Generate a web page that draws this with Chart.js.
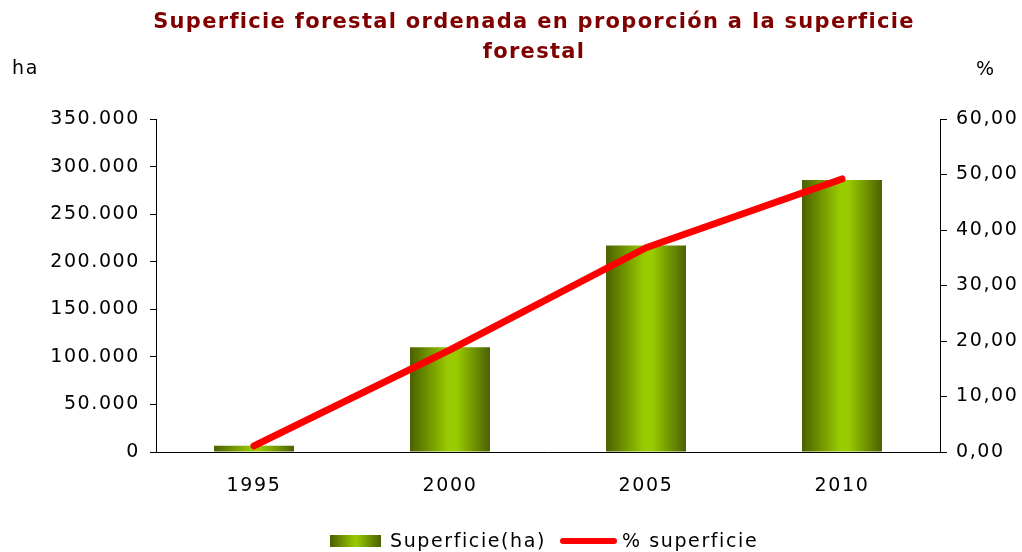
<!DOCTYPE html>
<html>
<head>
<meta charset="utf-8">
<script src="https://cdn.jsdelivr.net/npm/chart.js@4.4.1/dist/chart.umd.min.js"></script>
<style>
html,body{margin:0;padding:0;background:#fff;}
#wrap{width:1022px;height:552px;position:relative;}
</style>
</head>
<body>
<div id="wrap"><canvas id="c" width="1022" height="552"></canvas></div>
<script>
const years = ['1995', '2000', '2005', '2010'];
const superficieHa = [6600, 110000, 217000, 286000];
const porcentaje = [1.1, 18.4, 36.8, 49.2];
const titleLines = ['Superficie forestal ordenada en proporción a la superficie', 'forestal'];
const leftUnit = 'ha';
const rightUnit = '%';
const seriesNames = ['Superficie(ha)', '% superficie'];

const FONT = "'DejaVu Sans', Verdana, sans-serif";
const SPACING = '1.6px';
const BAR_DARK = '#4b6000';
const BAR_LIGHT = '#99cc00';

function fmtThousands(v){
  return String(Math.round(v)).replace(/\B(?=(\d{3})+(?!\d))/g, '.');
}
function fmtPct(v){
  return Number(v).toFixed(2).replace('.', ',');
}

function barGradient(ctx){
  const chart = ctx.chart;
  const {chartArea, scales} = chart;
  if (!chartArea || !scales.x) return BAR_LIGHT;
  const cx = scales.x.getPixelForValue(ctx.dataIndex);
  const w = (chartArea.right - chartArea.left) / years.length * 0.408;
  const g = chart.ctx.createLinearGradient(cx - w/2, 0, cx + w/2, 0);
  g.addColorStop(0, BAR_DARK);
  g.addColorStop(0.48, BAR_LIGHT);
  g.addColorStop(0.58, BAR_LIGHT);
  g.addColorStop(1, BAR_DARK);
  return g;
}

const spacingPlugin = {
  id: 'spacing',
  beforeUpdate(chart){ chart.ctx.letterSpacing = SPACING; },
  beforeDraw(chart){ chart.ctx.letterSpacing = SPACING; }
};

const decorPlugin = {
  id: 'decor',
  afterDraw(chart){
    const c = chart.ctx;
    c.save();
    // title
    c.letterSpacing = '1.3px';
    c.fillStyle = '#800000';
    c.font = 'bold 21px ' + FONT;
    c.textAlign = 'center';
    c.textBaseline = 'middle';
    c.fillText(titleLines[0], 534, 23);
    c.fillText(titleLines[1], 534, 53);
    // units
    c.letterSpacing = SPACING;
    c.fillStyle = '#000';
    c.font = '19px ' + FONT;
    c.textAlign = 'left';
    c.fillText(leftUnit, 12, 69);
    c.fillText(rightUnit, 976, 70);
    // legend
    const ly = 541;
    const g = c.createLinearGradient(330, 0, 381, 0);
    g.addColorStop(0, BAR_DARK);
    g.addColorStop(0.5, BAR_LIGHT);
    g.addColorStop(1, BAR_DARK);
    c.fillStyle = g;
    c.fillRect(330, ly - 6, 51, 12);
    c.fillStyle = '#000';
    c.fillText(seriesNames[0], 390, ly + 1);
    c.strokeStyle = '#ff0000';
    c.lineWidth = 6;
    c.lineCap = 'round';
    c.beginPath();
    c.moveTo(563, ly);
    c.lineTo(614, ly);
    c.stroke();
    c.fillStyle = '#000';
    c.fillText(seriesNames[1], 622, ly + 1);
    c.restore();
  }
};

new Chart(document.getElementById('c'), {
  data: {
    labels: years,
    datasets: [
      {
        type: 'line',
        label: seriesNames[1],
        data: porcentaje,
        yAxisID: 'y1',
        borderColor: '#ff0000',
        borderWidth: 7,
        borderCapStyle: 'round',
        borderJoinStyle: 'round',
        pointRadius: 0,
        tension: 0,
        order: 0
      },
      {
        type: 'bar',
        label: seriesNames[0],
        data: superficieHa,
        yAxisID: 'y',
        backgroundColor: barGradient,
        borderWidth: 0,
        barPercentage: 0.408,
        categoryPercentage: 1,
        order: 1
      }
    ]
  },
  options: {
    responsive: false,
    animation: false,
    devicePixelRatio: 1,
    layout: { padding: { top: 119, left: 0, right: 0, bottom: 0 } },
    plugins: { legend: { display: false }, title: { display: false }, tooltip: { enabled: false } },
    scales: {
      x: {
        offset: true,
        grid: { display: false, drawTicks: false },
        border: { display: true, color: '#000', width: 1 },
        ticks: { color: '#000', font: { family: FONT, size: 19 }, padding: 23, maxRotation: 0 },
        afterFit(s){ s.height = 100; }
      },
      y: {
        position: 'left',
        min: 0, max: 350000,
        grid: { drawOnChartArea: false, drawTicks: true, tickLength: 6, color: '#000' },
        border: { display: true, color: '#000', width: 1 },
        ticks: { stepSize: 50000, color: '#000', font: { family: FONT, size: 19 }, padding: 10, callback: v => fmtThousands(v) },
        afterFit(s){ s.width = 156; }
      },
      y1: {
        position: 'right',
        min: 0, max: 60,
        grid: { drawOnChartArea: false, drawTicks: true, tickLength: 7, color: '#000' },
        border: { display: true, color: '#000', width: 1 },
        ticks: { stepSize: 10, color: '#000', font: { family: FONT, size: 19 }, padding: 9, callback: v => fmtPct(v) },
        afterFit(s){ s.width = 82; }
      }
    }
  },
  plugins: [spacingPlugin, decorPlugin]
});
</script>
</body>
</html>
